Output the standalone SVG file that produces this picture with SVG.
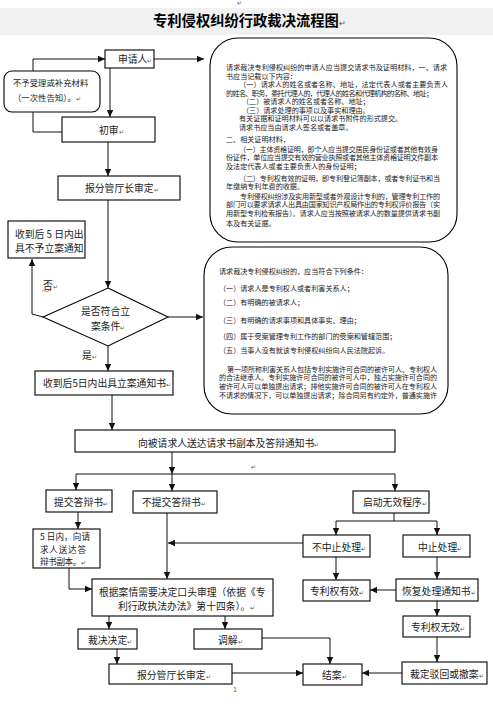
<svg xmlns="http://www.w3.org/2000/svg" width="493" height="711" viewBox="0 0 493 711">
<style>
text{font-family:"Noto Sans CJK SC","Liberation Sans",sans-serif;fill:#1a1a1a}
.l{font-size:9.8px}
.m{font-size:8.6px}
.s{font-size:8.4px}
.t{font-size:7.1px}
.pm{font-size:5.5px;fill:#555}
.b{fill:#fff;stroke:#000;stroke-width:1.1}
.c{fill:none;stroke:#111;stroke-width:1}
.ca{fill:none;stroke:#111;stroke-width:1;marker-end:url(#a)}
</style>
<defs>
<marker id="a" markerWidth="8" markerHeight="8" refX="7" refY="4" orient="auto" markerUnits="userSpaceOnUse">
<path d="M0,0.8 L7,4 L0,7.2 z" fill="#111"/>
</marker>
</defs>
<rect width="493" height="711" fill="#fff"/>
<g id="title">
<rect x="0" y="8" width="493" height="27" fill="#f1f1f1"/>
<text x="153" y="26" style="font-size:14.3px;font-weight:bold;fill:#000">专利侵权纠纷行政裁决流程图<tspan class="pm" style="font-size:8px;font-weight:normal">↵</tspan></text>
<text x="237" y="5" class="pm">↵</text>
</g>
<g id="connectors">
<polyline class="ca" points="33,71 33,59 105,59"/>
<polyline class="c" points="33,112 33,132 62,132"/>
<line class="ca" x1="110" y1="68" x2="110" y2="117"/>
<line class="ca" x1="154" y1="59" x2="204" y2="59"/>
<line class="ca" x1="108" y1="142" x2="108" y2="176"/>
<line class="ca" x1="108" y1="200" x2="108" y2="288"/>
<polyline class="ca" points="43,317 32,314 32,259"/>
<line class="ca" x1="168" y1="317" x2="203" y2="317"/>
<line class="ca" x1="108" y1="346" x2="108" y2="371"/>
<line class="ca" x1="112" y1="395" x2="112" y2="430"/>
<line class="ca" x1="172" y1="452" x2="172" y2="474"/>
<line class="c" x1="76" y1="474" x2="395" y2="474"/>
<line class="ca" x1="76" y1="474" x2="76" y2="490"/>
<line class="ca" x1="172" y1="474" x2="172" y2="491"/>
<line class="ca" x1="395" y1="474" x2="395" y2="491"/>
<line class="ca" x1="78" y1="512" x2="78" y2="529"/>
<polyline class="ca" points="69,568 69,589 92,589"/>
<line class="ca" x1="167" y1="512" x2="167" y2="579"/>
<line class="ca" x1="303" y1="543" x2="168" y2="543"/>
<polyline class="c" points="394,513 394,521"/>
<line class="c" x1="336" y1="521" x2="437" y2="521"/>
<line class="ca" x1="336" y1="521" x2="336" y2="535"/>
<line class="ca" x1="437" y1="521" x2="437" y2="535"/>
<line class="ca" x1="336" y1="557" x2="336" y2="580"/>
<line class="ca" x1="437" y1="557" x2="437" y2="579"/>
<line class="ca" x1="396" y1="590" x2="370" y2="590"/>
<line class="ca" x1="437" y1="601" x2="437" y2="616"/>
<line class="ca" x1="437" y1="637" x2="437" y2="662"/>
<line class="ca" x1="402" y1="673" x2="362" y2="673"/>
<polyline class="ca" points="262,638 330,638 330,664"/>
<line class="ca" x1="232" y1="673" x2="303" y2="673"/>
<line class="ca" x1="109" y1="616" x2="109" y2="629"/>
<line class="ca" x1="225" y1="616" x2="225" y2="629"/>
<line class="ca" x1="117" y1="649" x2="117" y2="664"/>
<text x="43" y="288.5" class="l">否<tspan class="pm">↵</tspan></text>
<path d="M42,291 q1.5,-1.5 3,0 t3,0 t3,0" fill="none" stroke="#d00" stroke-width="0.6"/>
<text x="82" y="358.5" class="l">是<tspan class="pm">↵</tspan></text>
<text x="251" y="469" class="pm">↵</text>
</g>
<g id="n-applicant">
<rect class="b" x="105" y="50" width="49" height="18"/>
<text x="118" y="63" class="l">申请人<tspan class="pm">↵</tspan></text>
</g>
<g id="n-reject-supplement">
<rect class="b" x="4" y="71" width="96" height="41" rx="8"/>
<text x="13" y="86" class="s">不予受理或补充材料</text>
<text x="13" y="101" class="s">（一次性告知）。<tspan class="pm">↵</tspan></text>
</g>
<g id="n-initial-review">
<rect class="b" x="62" y="117" width="93" height="25"/>
<text x="99" y="133.5" class="l">初审<tspan class="pm">↵</tspan></text>
</g>
<g id="n-approval-1">
<rect class="b" x="58" y="176" width="122" height="24"/>
<text x="85" y="191.5" class="l">报分管厅长审定<tspan class="pm">↵</tspan></text>
</g>
<g id="n-materials">
<rect class="b" x="210" y="38" width="247" height="204" rx="28"/>
<g class="t">
<text x="226" y="70" textLength="221">请求裁决专利侵权纠纷的申请人应当提交请求书及证明材料，一、请求</text>
<text x="226" y="78.5">书应当记载以下内容：</text>
<text x="239" y="87" textLength="209">（一）请求人的姓名或者名称、地址，法定代表人或者主要负责人</text>
<text x="226" y="95.5" textLength="207">的姓名、职务，委托代理人的，代理人的姓名和代理机构的名称、地址；</text>
<text x="242" y="104">（二）被请求人的姓名或者名称、地址；</text>
<text x="242" y="112.5">（三）请求处理的事项以及事实和理由。</text>
<text x="239" y="121">有关证据和证明材料可以以请求书附件的形式提交。</text>
<text x="239" y="129.5">请求书应当由请求人签名或者盖章。</text>
<text x="226" y="141.5">二、相关证明材料，</text>
<text x="239" y="151.5" textLength="199">（一）主体资格证明，即个人应当提交居民身份证或者其他有效身</text>
<text x="226" y="160" textLength="212">份证件，单位应当提交有效的营业执照或者其他主体资格证明文件副本</text>
<text x="226" y="168.5">及法定代表人或者主要负责人的身份证明；</text>
<text x="239" y="180.5" textLength="201">（二）专利权有效的证明，即专利登记簿副本，或者专利证书和当</text>
<text x="226" y="189">年缴纳专利年费的收据。</text>
<text x="240" y="198.5" textLength="200">专利侵权纠纷涉及实用新型或者外观设计专利的，管理专利工作的</text>
<text x="226" y="207" textLength="214">部门可以要求请求人出具由国家知识产权局作出的专利权评价报告（实</text>
<text x="226" y="215.5" textLength="214">用新型专利检索报告）。请求人应当按照被请求人的数量提供请求书副</text>
<text x="226" y="226">本及有关证据。</text>
</g>
</g>
<g id="n-no-case-notice">
<rect class="b" x="8" y="221" width="77" height="37"/>
<text x="15" y="237.8" class="l">收到后 5 日内出</text>
<text x="15" y="251.8" class="l">具不予立案通知</text>
</g>
<g id="n-decision">
<polygon class="b" points="108,288 168,317 108,346 43,317"/>
<text x="81" y="314.8" class="l">是否符合立</text>
<text x="91" y="329.8" class="l">案条件<tspan class="pm">↵</tspan></text>
</g>
<g id="n-conditions">
<rect class="b" x="204" y="247" width="244" height="167" rx="28"/>
<g class="t">
<text x="219" y="274.3">请求裁决专利侵权纠纷的，应当符合下列条件：</text>
<text x="219" y="290.9">（一）请求人是专利权人或者利害关系人；</text>
<text x="219" y="305.3">（二）有明确的被请求人；</text>
<text x="219" y="322.6">（三）有明确的请求事项和具体事实、理由；</text>
<text x="219" y="338.6">（四）属于受案管理专利工作的部门的受案和管辖范围；</text>
<text x="219" y="353.3">（五）当事人没有就该专利侵权纠纷向人民法院起诉。</text>
<text x="227" y="371.5" textLength="210">第一项所称利害关系人包括专利实施许可合同的被许可人、专利权人</text>
<text x="219" y="380.2" textLength="218">的合法继承人。专利实施许可合同的被许可人中，独占实施许可合同的</text>
<text x="219" y="388.9" textLength="218">被许可人可以单独提出请求；排他实施许可合同的被许可人在专利权人</text>
<text x="219" y="397.6" textLength="218">不请求的情况下，可以单独提出请求；除合同另有约定外，普通实施许</text>
</g>
</g>
<g id="n-case-notice">
<rect class="b" x="35" y="371" width="138" height="24"/>
<text x="43" y="386.8" class="l">收到后5日内出具立案通知书<tspan class="pm">↵</tspan></text>
</g>
<g id="n-serve">
<rect class="b" x="75" y="430" width="320" height="22"/>
<text x="138" y="446.8" class="l">向被请求人送达请求书副本及答辩通知书<tspan class="pm">↵</tspan></text>
</g>
<g id="n-submit-defense">
<rect class="b" x="46" y="490" width="66" height="22"/>
<text x="54" y="505.8" class="l">提交答辩书<tspan class="pm">↵</tspan></text>
</g>
<g id="n-no-defense">
<rect class="b" x="133" y="491" width="84" height="22"/>
<text x="142" y="505.8" class="l">不提交答辩书<tspan class="pm">↵</tspan></text>
</g>
<g id="n-invalidation">
<rect class="b" x="353" y="491" width="76" height="22"/>
<text x="363" y="505.8" class="l">启动无效程序<tspan class="pm">↵</tspan></text>
</g>
<g id="n-serve-defense">
<rect class="b" x="33" y="529" width="67" height="39"/>
<text x="40" y="540" class="m" textLength="50">5 日内，向请</text>
<text x="40" y="552.5" class="m" textLength="46">求人送达答</text>
<text x="40" y="565" class="m" textLength="46">辩书副本。<tspan class="pm">↵</tspan></text>
</g>
<g id="n-no-suspend">
<rect class="b" x="303" y="535" width="67" height="22"/>
<text x="312" y="550.8" class="l">不中止处理<tspan class="pm">↵</tspan></text>
</g>
<g id="n-suspend">
<rect class="b" x="403" y="535" width="67" height="22"/>
<text x="418" y="550.8" class="l">中止处理<tspan class="pm">↵</tspan></text>
</g>
<g id="n-hearing">
<rect class="b" x="92" y="579" width="181" height="37"/>
<text x="99" y="595.8" class="l">根据案情需要决定口头审理（依据《专</text>
<text x="118" y="609.8" class="l">利行政执法办法》第十四条）。<tspan class="pm">↵</tspan></text>
</g>
<g id="n-valid">
<rect class="b" x="303" y="580" width="67" height="21"/>
<text x="310" y="595.3" class="l">专利权有效<tspan class="pm">↵</tspan></text>
</g>
<g id="n-resume">
<rect class="b" x="396" y="579" width="82" height="22"/>
<text x="402" y="595.3" class="l">恢复处理通知书<tspan class="pm">↵</tspan></text>
</g>
<g id="n-invalid">
<rect class="b" x="403" y="616" width="67" height="21"/>
<text x="411" y="631.3" class="l">专利权无效<tspan class="pm">↵</tspan></text>
</g>
<g id="n-ruling">
<rect class="b" x="78" y="629" width="59" height="20"/>
<text x="88" y="644.3" class="l">裁决决定<tspan class="pm">↵</tspan></text>
</g>
<g id="n-mediation">
<rect class="b" x="194" y="629" width="68" height="20"/>
<text x="218" y="644.3" class="l">调解<tspan class="pm">↵</tspan></text>
</g>
<g id="n-approval-2">
<rect class="b" x="109" y="664" width="123" height="20"/>
<text x="137" y="679.3" class="l">报分管厅长审定<tspan class="pm">↵</tspan></text>
</g>
<g id="n-close">
<rect class="b" x="303" y="664" width="59" height="21"/>
<text x="322" y="678.8" class="l">结案<tspan class="pm">↵</tspan></text>
</g>
<g id="n-reject-withdraw">
<rect class="b" x="402" y="662" width="85" height="22"/>
<text x="410" y="678.3" class="l">裁定驳回或撤案<tspan class="pm">↵</tspan></text>
</g>
<text x="233" y="692" style="font-size:7px;fill:#555">1</text>
</svg>
